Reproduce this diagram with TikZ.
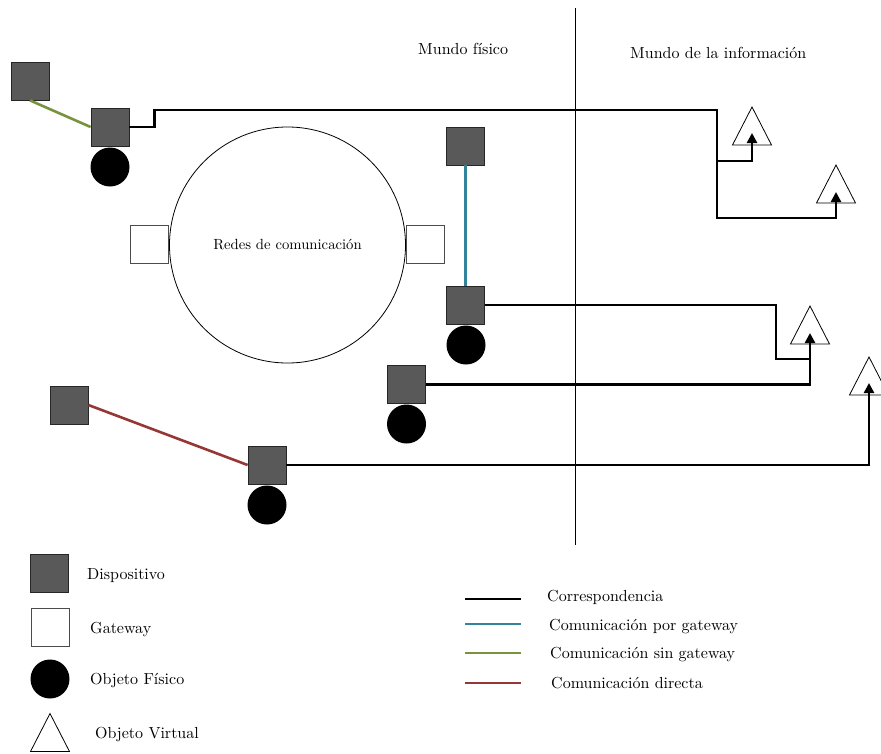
\documentclass[tikz,border=0pt]{standalone}
\usepackage{fontspec}
\setmainfont{lmroman10-regular.otf}
\usetikzlibrary{arrows.meta}
\definecolor{devgray}{HTML}{595959}
\definecolor{gwblue}{HTML}{31849B}
\definecolor{nogwgreen}{HTML}{77933C}
\definecolor{directred}{HTML}{953735}
\begin{document}
\begin{tikzpicture}[x=1pt,y=-1pt,
  device/.style={draw=black!85,line width=0.8pt,fill=devgray,minimum size=38pt,inner sep=0pt},
  gateway/.style={draw=black!70,line width=0.8pt,fill=white,minimum size=38pt,inner sep=0pt},
  physobj/.style={circle,fill=black,minimum size=39pt,inner sep=0pt},
  virt/.style={draw=black,line width=0.8pt,fill=white,line join=miter},
  corr/.style={line width=2.8pt,line join=miter},
  corrarrow/.style={corr,-{Triangle[length=10pt,width=10pt]}},
  viagw/.style={draw=gwblue,line width=2.6pt},
  nogw/.style={draw=nogwgreen,line width=2.6pt},
  direct/.style={draw=directred,line width=2.6pt},
  thinline/.style={line width=0.8pt},
  txt/.style={font=\fontsize{16}{19}\selectfont,inner sep=0pt,anchor=base west}
]
\useasboundingbox (0,0) rectangle (881,753);

% divider between the two worlds
\coordinate (divtop) at (575,8);
\coordinate (divbot) at (575,545);
\draw[thinline] (divtop) -- (divbot);
\node[txt] (hphys) at (418,54) {Mundo físico};
\node[txt] (hinfo) at (630,58) {Mundo de la información};

% communication network with its gateways
\node[draw,circle,thinline,minimum size=236pt,inner sep=0pt,
      font=\fontsize{14.7}{17}\selectfont] (net) at (287.5,245) {Redes de comunicación};
\node[gateway] (gL) at (149,244) {};
\node[gateway] (gR) at (425,244) {};

% devices
\node[device] (dA) at (30,81) {};
\node[device] (dB) at (110,127) {};
\node[device] (dC) at (465.5,146) {};
\node[device] (dD) at (465.5,305) {};
\node[device] (dE) at (406.5,384.5) {};
\node[device] (dF) at (267,465) {};
\node[device] (dG) at (69,405) {};

% physical objects
\node[physobj] (oB) at (110,167) {};
\node[physobj] (oD) at (466,345) {};
\node[physobj] (oE) at (406.5,424) {};
\node[physobj] (oF) at (267,505) {};

% virtual objects
\coordinate (v1) at (752,126);
\coordinate (v2) at (836,184);
\coordinate (v3) at (810,325);
\coordinate (v4) at (869,376);
\foreach \v in {v1,v2,v3,v4}
  \draw[virt] (\v) ++(0,-19) -- ++(19.5,38) -- ++(-39,0) -- cycle;

% arrow tips inside the virtual objects
\coordinate (t1) at (752,133);
\coordinate (t2) at (836,192);
\coordinate (t3) at (810,333);
\coordinate (t4) at (869,383);
\coordinate (j1) at (717,161);
\coordinate (j3) at (810,359);

% correspondence links
\draw[corrarrow] (dB.east) -- ++(25,0) |- (717,110) -- (j1) -| (t1);
\draw[corrarrow] (j1) |- (836,218) -- (t2);
\draw[corr] (dD.east) -| (776,359) -- (j3);
\draw[corrarrow] (dE.east) -| (t3);
\draw[corrarrow] (dF.east) -| (t4);

% device-to-device communication
\draw[nogw] (dA.south) -- (dB.west);
\draw[viagw] (dC.south) -- (dD.north);
\draw[direct] (dG.east) -- (dF.west);

% legend: symbols
\node[device] (kdev) at (49.5,573.5) {};
\node[txt] (kdevt) at (87,579) {Dispositivo};
\node[gateway] (kgw) at (50,627.5) {};
\node[txt] (kgwt) at (90,633) {Gateway};
\node[physobj] (kobj) at (50,679) {};
\node[txt] (kobjt) at (90,684) {Objeto Físico};
\coordinate (kvirt) at (50,732.5);
\draw[virt] (kvirt) ++(0,-19) -- ++(19.5,38) -- ++(-39,0) -- cycle;
\node[txt] (kvirtt) at (95,738) {Objeto Virtual};

% legend: connectors
\coordinate (l1a) at (465,599); \coordinate (l1b) at (521,599);
\coordinate (l2a) at (465,624); \coordinate (l2b) at (521,624);
\coordinate (l3a) at (465,653); \coordinate (l3b) at (521,653);
\coordinate (l4a) at (465,683); \coordinate (l4b) at (521,683);
\draw[corr] (l1a) -- (l1b);
\draw[viagw] (l2a) -- (l2b);
\draw[nogw] (l3a) -- (l3b);
\draw[direct] (l4a) -- (l4b);
\node[txt] (l1t) at (547,601) {Correspondencia};
\node[txt] (l2t) at (549,630) {Comunicación por gateway};
\node[txt] (l3t) at (550,658) {Comunicación sin gateway};
\node[txt] (l4t) at (551,688) {Comunicación directa};
\end{tikzpicture}
\end{document}
